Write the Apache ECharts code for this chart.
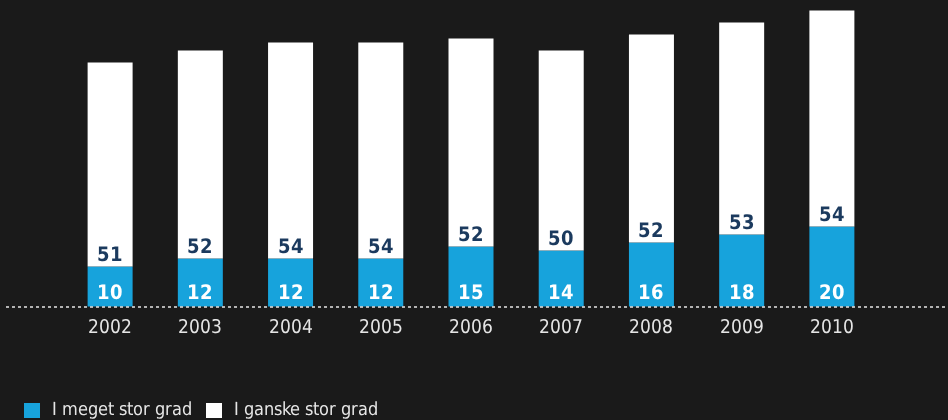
<!DOCTYPE html>
<html>
<head>
<meta charset="utf-8">
<script src="https://cdn.jsdelivr.net/npm/echarts@6/dist/echarts.min.js"></script>
<style>
  @font-face { font-family: 'ChartNarrow'; font-weight: 400;
    src: local('Liberation Sans Narrow'), local('LiberationSansNarrow'), local('LiberationSansNarrow-Regular'), local('DejaVu Sans Condensed'), local('DejaVuSansCondensed'); }
  @font-face { font-family: 'ChartNarrow'; font-weight: 700;
    src: local('Liberation Sans Narrow Bold'), local('LiberationSansNarrow-Bold'), local('DejaVu Sans Condensed Bold'), local('DejaVuSansCondensed-Bold'); }
  html, body { margin: 0; padding: 0; background: #1a1a1a; }
  #chart { width: 948px; height: 420px; }
</style>
</head>
<body>
<div id="chart"></div>
<script>
// Survey shares per year, stacked: strong degree at the bottom, fairly strong on top
const years = ['2002', '2003', '2004', '2005', '2006', '2007', '2008', '2009', '2010'];
const megetStor = [10, 12, 12, 12, 15, 14, 16, 18, 20];
const ganskeStor = [51, 52, 54, 54, 52, 50, 52, 53, 54];
const seriesNames = ['I meget stor grad', 'I ganske stor grad'];

const FONT = 'ChartNarrow, "DejaVu Sans", sans-serif';
const BLUE = '#17a3dc';
const NAVY = '#1b3a5e';
const LIGHT = '#e6e6e6';

function draw() {
  const chart = echarts.init(document.getElementById('chart'));
  chart.setOption({
    backgroundColor: '#1a1a1a',
    animation: false,
    grid: { left: 65, width: 812, top: 0, height: 306.5 },
    legend: {
      left: 24,
      top: 398.5,
      padding: 0,
      itemWidth: 16,
      itemHeight: 15,
      itemGap: 14,
      icon: 'rect',
      textStyle: { color: LIGHT, fontFamily: FONT, fontSize: 18, lineHeight: 24, padding: [0, 0, 0, 7] },
      data: seriesNames
    },
    xAxis: {
      type: 'category',
      data: years,
      axisLine: { show: false },
      axisTick: { show: false },
      axisLabel: { color: LIGHT, fontFamily: FONT, fontSize: 19, margin: 12 }
    },
    yAxis: {
      type: 'value',
      min: 0,
      max: 76.6,
      show: false,
      splitLine: { show: false }
    },
    series: [
      {
        name: seriesNames[0],
        type: 'bar',
        stack: 'total',
        barWidth: 45,
        data: megetStor,
        itemStyle: { color: BLUE },
        label: {
          show: true,
          position: 'insideBottom',
          distance: 3,
          color: '#ffffff',
          fontFamily: FONT,
          fontWeight: 'bold',
          fontSize: 20
        }
      },
      {
        name: seriesNames[1],
        type: 'bar',
        stack: 'total',
        barWidth: 45,
        data: ganskeStor,
        itemStyle: { color: '#ffffff' },
        label: {
          show: true,
          position: 'insideBottom',
          distance: 1,
          color: NAVY,
          fontFamily: FONT,
          fontWeight: 'bold',
          fontSize: 20
        }
      }
    ]
  });

  // dotted baseline across the full width at value 0
  const y0 = chart.convertToPixel({ yAxisIndex: 0 }, 0);
  chart.setOption({
    graphic: [{
      type: 'line',
      z: 100,
      shape: { x1: 6, y1: y0 + 0.5, x2: 948, y2: y0 + 0.5 },
      style: { stroke: LIGHT, lineWidth: 1.5, lineDash: [3, 3] }
    }]
  });
}

Promise.all([
  document.fonts.load('19px ChartNarrow'),
  document.fonts.load('bold 20px ChartNarrow')
]).then(draw, draw);
</script>
</body>
</html>
